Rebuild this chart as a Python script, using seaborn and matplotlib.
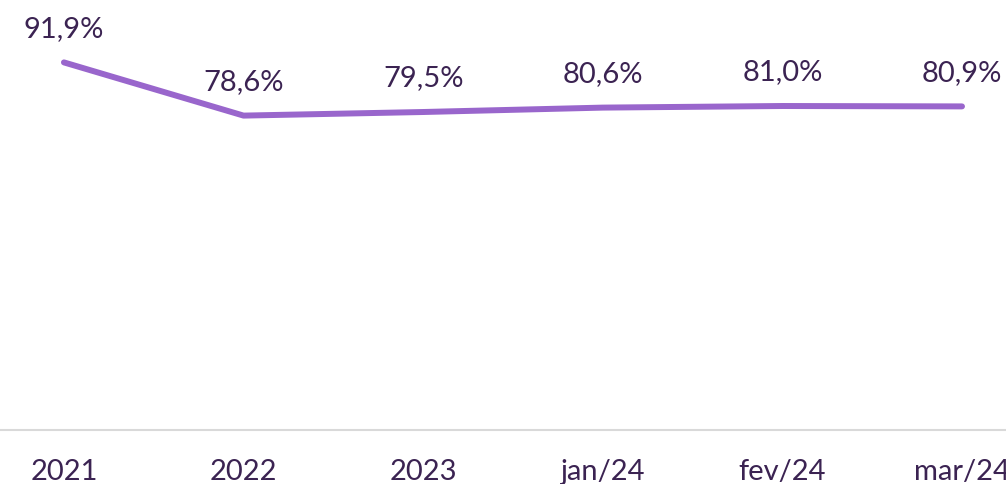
import pandas as pd
import seaborn as sns
import matplotlib.pyplot as plt

periods = ["2021", "2022", "2023", "jan/24", "fev/24", "mar/24"]
rates = [91.9, 78.6, 79.5, 80.6, 81.0, 80.9]
labels = ["91,9%", "78,6%", "79,5%", "80,6%", "81,0%", "80,9%"]

text_color = "#3b2352"
line_color = "#9966cc"

sns.set_style("white")
plt.rcParams["font.family"] = ["Lato", "DejaVu Sans"]

df = pd.DataFrame({"pos": range(len(periods)), "rate": rates})

fig = plt.figure(figsize=(10.06, 4.85), dpi=100)
ax = fig.add_axes([0, 0.1113, 1, 0.8887])

sns.lineplot(data=df, x="pos", y="rate", ax=ax, color=line_color,
             linewidth=4.3, solid_capstyle="round", solid_joinstyle="round")

# data labels above each point
for i, (v, lab) in enumerate(zip(rates, labels)):
    ax.annotate(lab, (i, v), xytext=(0, 25), textcoords="offset points",
                ha="center", va="center", fontsize=21, color=text_color,
                annotation_clip=False)

ax.set_xlim(-0.356, 5.245)
ax.set_ylim(0, 107.75)
ax.set_xticks(range(len(periods)))
ax.set_xticklabels(periods, fontsize=21, color=text_color)
ax.tick_params(axis="x", length=0, pad=20)
ax.set_yticks([])
ax.set_xlabel("")
ax.set_ylabel("")

for side in ["top", "left", "right"]:
    ax.spines[side].set_visible(False)
ax.spines["bottom"].set_color("#d9d9d9")
ax.spines["bottom"].set_linewidth(1.5)

plt.savefig("out.png", dpi=100)
